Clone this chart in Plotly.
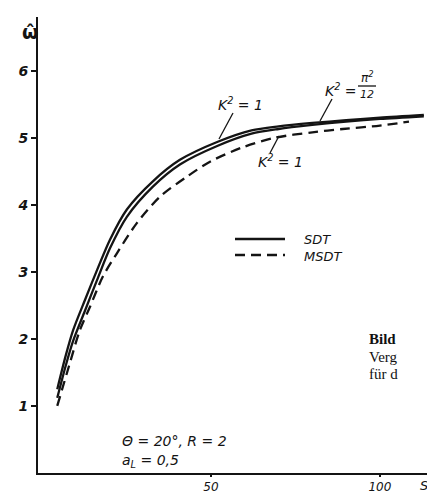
import plotly.graph_objects as go

# ---- data ----
s_sdt = [4.5, 7, 9.2, 12.7, 16.3, 20.1, 25.1, 32.8, 40.8, 52, 62, 70, 80, 90, 100, 113]
w_sdt_k1 = [1.25, 1.75, 2.13, 2.58, 3.03, 3.48, 3.93, 4.35, 4.67, 4.94, 5.11, 5.17, 5.22, 5.26, 5.3, 5.34]
w_sdt_kpi = [1.12, 1.6, 1.97, 2.42, 2.88, 3.35, 3.82, 4.27, 4.6, 4.88, 5.06, 5.13, 5.19, 5.24, 5.28, 5.32]

s_msdt = [4.5, 8, 11.2, 14.2, 18, 22.2, 28.1, 34.9, 42.9, 50, 59, 69, 80, 89, 100, 108.6]
w_msdt_k1 = [1.0, 1.6, 2.13, 2.48, 2.93, 3.28, 3.73, 4.12, 4.42, 4.65, 4.85, 5.0, 5.08, 5.13, 5.18, 5.24]

y_ticks = [1, 2, 3, 4, 5, 6]
x_ticks = [50, 100]
x_tick_labels = ["50", "100"]

OFF = 8  # default page margin of the html body
W, H = 435 - OFF, 495 - OFF
ML, MR, MT, MB = 38 - OFF, 0, 17 - OFF, 22
XMIN, XMAX = -1.2, 116.3
YMIN, YMAX = 0, 6.8

def pxx(px):
    return XMIN + (px - OFF - ML) * (XMAX - XMIN) / (W - ML - MR)

def pxy(py):
    return YMIN + (H - MB - (py - OFF)) * (YMAX - YMIN) / (H - MT - MB)

def paperx(px):
    return (px - OFF - ML) / (W - ML - MR)

def papery(py):
    return (H - MB - (py - OFF)) / (H - MT - MB)

INK = "#141414"
fig = go.Figure()
fig.add_trace(go.Scatter(x=s_sdt, y=w_sdt_k1, mode="lines", line=dict(color=INK, width=2.3, shape="spline", smoothing=0.8), name="SDT K²=1", showlegend=False))
fig.add_trace(go.Scatter(x=s_sdt, y=w_sdt_kpi, mode="lines", line=dict(color=INK, width=2.3, shape="spline", smoothing=0.8), name="SDT K²=π²/12", showlegend=False))
fig.add_trace(go.Scatter(x=s_msdt, y=w_msdt_k1, mode="lines", line=dict(color=INK, width=2.3, dash="10px,6px", shape="spline", smoothing=0.8), name="MSDT K²=1", showlegend=False))

font_it = dict(family="DejaVu Sans", size=14, color=INK, style="italic")
ann = []
# axis title omega hat
ann.append(dict(xref="paper", yref="paper", x=paperx(30), y=papery(32), text="<b>ω̂</b>", showarrow=False,
                font=dict(family="DejaVu Sans", size=19, color=INK), xanchor="center", yanchor="middle"))
ann.append(dict(xref="paper", yref="paper", x=paperx(424), y=papery(485), text="S", showarrow=False,
                font=dict(family="DejaVu Sans", size=13, color=INK, style="italic"), xanchor="center", yanchor="middle"))
# curve labels
ann.append(dict(x=pxx(240), y=pxy(104), text="K<sup>2</sup> = 1", showarrow=False, font=font_it))
ann.append(dict(x=pxx(280), y=pxy(161), text="K<sup>2</sup> = 1", showarrow=False, font=font_it))
ann.append(dict(x=pxx(341), y=pxy(90), text="K<sup>2</sup> =", showarrow=False, font=font_it))
ann.append(dict(x=pxx(367), y=pxy(77), text="π<sup>2</sup>", showarrow=False, font=dict(family="DejaVu Sans", size=12, color=INK, style="italic")))
ann.append(dict(x=pxx(367), y=pxy(94), text="12", showarrow=False, font=dict(family="DejaVu Sans", size=11, color=INK, style="italic")))
# legend text
ann.append(dict(x=pxx(302), y=pxy(239), text="SDT", showarrow=False, xanchor="left", font=dict(family="DejaVu Sans", size=13, color=INK, style="italic")))
ann.append(dict(x=pxx(302), y=pxy(256), text="MSDT", showarrow=False, xanchor="left", font=dict(family="DejaVu Sans", size=13, color=INK, style="italic")))
# parameters
ann.append(dict(x=pxx(120), y=pxy(441), text="Θ = 20°, R = 2", showarrow=False, xanchor="left", font=font_it))
ann.append(dict(x=pxx(120), y=pxy(461), text="a<sub>L</sub> = 0,5", showarrow=False, xanchor="left", font=font_it))
# caption fragment of the page
serif = dict(family="Liberation Serif", size=15, color="#111")
ann.append(dict(x=pxx(367), y=pxy(339), text="<b>Bild</b>", showarrow=False, xanchor="left", font=serif))
ann.append(dict(x=pxx(367), y=pxy(357), text="Verg", showarrow=False, xanchor="left", font=serif))
ann.append(dict(x=pxx(367), y=pxy(374), text="für d", showarrow=False, xanchor="left", font=serif))

shapes = []
# leader lines
for (x0, y0, x1, y1) in [(233, 113, 219, 139), (332, 99, 320, 121), (279, 136, 270, 153)]:
    shapes.append(dict(type="line", x0=pxx(x0), y0=pxy(y0), x1=pxx(x1), y1=pxy(y1), line=dict(color=INK, width=1.3)))
# fraction bar
shapes.append(dict(type="line", x0=pxx(358), y0=pxy(86), x1=pxx(376), y1=pxy(86), line=dict(color=INK, width=1.3)))
# legend samples
shapes.append(dict(type="line", x0=pxx(235), y0=pxy(239), x1=pxx(285), y1=pxy(239), line=dict(color=INK, width=2.3)))
shapes.append(dict(type="line", x0=pxx(235), y0=pxy(255), x1=pxx(285), y1=pxy(255), line=dict(color=INK, width=2.3, dash="10px,6px")))

fig.update_layout(
    width=W, height=H,
    margin=dict(l=ML, r=MR, t=MT, b=MB, pad=0, autoexpand=False),
    paper_bgcolor="white", plot_bgcolor="white",
    annotations=ann, shapes=shapes,
    xaxis=dict(range=[XMIN, XMAX], showgrid=False, zeroline=False, showline=True, linecolor=INK, linewidth=2,
               tickvals=x_ticks, ticktext=x_tick_labels, ticks="outside", ticklen=2, tickcolor=INK, tickwidth=1.5,
               tickfont=dict(family="DejaVu Sans", size=12, color=INK, style="italic"), automargin=False),
    yaxis=dict(range=[YMIN, YMAX], showgrid=False, zeroline=False, showline=True, linecolor=INK, linewidth=2,
               tickvals=y_ticks, ticks="outside", ticklen=5, tickcolor=INK, tickwidth=1.5, automargin=False,
               tickfont=dict(family="DejaVu Sans", size=14, color=INK, style="italic", weight="bold")),
)
fig.write_html("out.html")
